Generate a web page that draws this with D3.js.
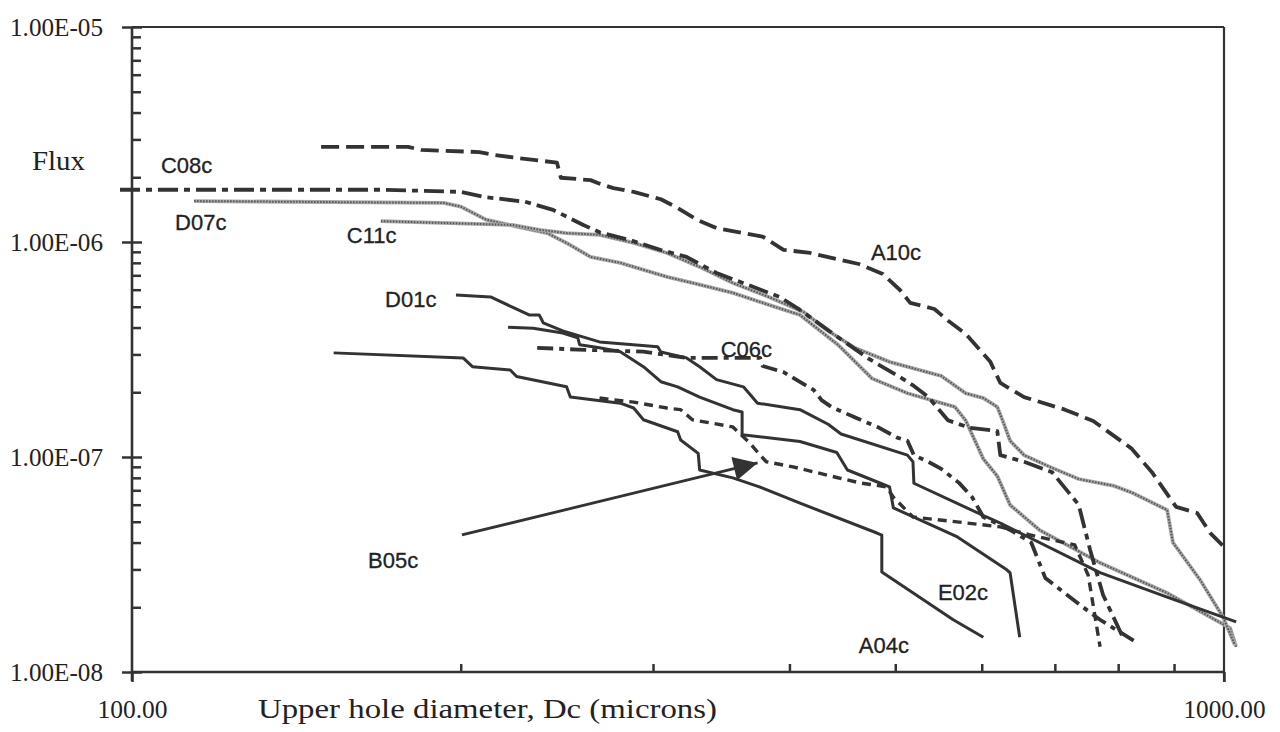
<!DOCTYPE html>
<html>
<head>
<meta charset="utf-8">
<script src="https://cdn.jsdelivr.net/npm/d3@7"></script>
<style>
html, body { margin: 0; padding: 0; background: #fff; }
svg { display: block; }
</style>
</head>
<body>
<svg id="chart" width="1280" height="732"></svg>
<script>
// 坐标刻度
var xMajor = [100, 1000];
var xMinor = [200, 300, 400, 500, 600, 700, 800, 900];
var yMajor = [1e-8, 1e-7, 1e-6, 1e-5];
var yMult = [2, 3, 4, 5, 6, 7, 8, 9];

// 各条曲线 [直径 Dc, Flux]
var a10c = [[149,2.77e-6],[179,2.77e-6],[184,2.68e-6],[208,2.62e-6],[215,2.54e-6],[225,2.46e-6],[245,2.34e-6],[247,1.99e-6],[263,1.94e-6],[267,1.88e-6],[276,1.78e-6],[288,1.71e-6],[305,1.58e-6],[316,1.44e-6],[329,1.27e-6],[343,1.16e-6],[378,1.06e-6],[395,9.2e-7],[418,8.89e-7],[463,7.9e-7],[487,7.1e-7],[505,5.98e-7],[516,5.21e-7],[543,4.88e-7],[559,4.3e-7],[580,3.74e-7],[611,2.77e-7],[624,2.21e-7],[656,1.9e-7],[715,1.66e-7],[759,1.47e-7],[822,1.1e-7],[859,8.5e-8],[904,5.86e-8],[945,5.49e-8],[971,4.44e-8],[1000,3.82e-8]];
var c08c = [[97.5,1.75e-6],[170,1.75e-6],[200,1.71e-6],[210,1.62e-6],[229,1.54e-6],[243,1.41e-6],[259,1.2e-6],[268,1.11e-6],[286,1.02e-6],[305,9.18e-7],[322,8.52e-7],[343,7.18e-7],[392,5.55e-7],[409,4.83e-7],[440,3.7e-7],[473,2.86e-7],[508,2.31e-7],[520,2.14e-7],[536,1.9e-7],[559,1.48e-7],[584,1.37e-7],[620,1.32e-7],[624,1.02e-7],[656,9.5e-8],[696,8.5e-8],[736,6e-8],[754,3.7e-8],[775,2.28e-8],[807,1.47e-8]];
var d07c = [[114,1.55e-6],[193,1.52e-6],[200,1.46e-6],[211,1.27e-6],[225,1.18e-6],[240,1.1e-6],[250,9.9e-7],[263,8.52e-7],[280,8e-7],[309,6.88e-7],[326,6.45e-7],[355,5.8e-7],[383,5.1e-7],[409,4.58e-7],[443,3.33e-7],[476,2.32e-7],[513,1.98e-7],[567,1.71e-7],[580,1.48e-7],[602,9.8e-8],[620,8.15e-8],[637,5.98e-8],[678,4.57e-8],[770,3.22e-8],[887,2.33e-8],[1013,1.6e-8],[1026,1.31e-8]];
var c11c = [[169,1.25e-6],[223,1.2e-6],[236,1.14e-6],[250,1.1e-6],[268,1.08e-6],[288,9.9e-7],[309,8.89e-7],[331,7.66e-7],[355,6.45e-7],[383,5.55e-7],[412,4.73e-7],[434,3.86e-7],[459,3.22e-7],[494,2.77e-7],[551,2.38e-7],[580,1.98e-7],[602,1.88e-7],[620,1.71e-7],[627,1.48e-7],[637,1.19e-7],[656,1.02e-7],[696,8.9e-8],[736,7.9e-8],[793,7.34e-8],[825,6.8e-8],[887,5.67e-8],[898,4e-8],[951,2.68e-8],[998,1.8e-8],[1023,1.34e-8]];
var d01c = [[198,5.67e-7],[213,5.55e-7],[223,4.98e-7],[231,4.58e-7],[236,4.58e-7],[238,4.21e-7],[248,3.86e-7],[268,3.43e-7],[303,3.26e-7],[305,3.08e-7],[322,2.89e-7],[331,2.63e-7],[343,2.29e-7],[363,2.12e-7],[374,1.78e-7],[409,1.66e-7],[434,1.42e-7],[446,1.28e-7],[513,1.02e-7],[519,9.5e-8],[520,7.55e-8],[606,5.26e-8],[624,4.93e-8],[770,2.9e-8],[887,2.23e-8],[1026,1.71e-8]];
var e02c = [[221,4.01e-7],[233,3.97e-7],[248,3.77e-7],[256,3.58e-7],[257,3.33e-7],[268,3.22e-7],[280,3.09e-7],[294,2.63e-7],[305,2.24e-7],[316,2.12e-7],[331,1.9e-7],[355,1.66e-7],[362,1.62e-7],[362,1.27e-7],[409,1.18e-7],[442,1.05e-7],[452,8.7e-8],[484,7.57e-8],[494,7.26e-8],[498,5.8e-8],[570,4.25e-8],[633,2.98e-8],[637,2.89e-8],[650,1.45e-8]];
var a04c = [[153,3.05e-7],[201,2.89e-7],[205,2.63e-7],[222,2.54e-7],[225,2.37e-7],[250,2.12e-7],[252,1.9e-7],[280,1.78e-7],[288,1.69e-7],[294,1.49e-7],[316,1.31e-7],[318,1.2e-7],[330,1.04e-7],[331,8.7e-8],[355,8e-8],[376,7.24e-8],[409,6.1e-8],[481,4.43e-8],[486,4.33e-8],[486,2.92e-8],[565,1.75e-8],[602,1.45e-8]];
var c06c = [[235,3.22e-7],[256,3.16e-7],[294,3.09e-7],[322,2.89e-7],[346,2.89e-7],[376,2.89e-7],[378,2.65e-7],[395,2.48e-7],[421,2.05e-7],[428,1.84e-7],[437,1.71e-7],[459,1.53e-7],[483,1.37e-7],[502,1.23e-7],[513,1.19e-7],[520,1.02e-7],[536,9.5e-8],[551,8.8e-8],[572,7.58e-8],[588,6.5e-8],[602,5.26e-8],[637,4.58e-8],[666,4e-8],[686,2.74e-8],[743,2e-8],[770,1.75e-8],[832,1.37e-8]];
var b05c = [[268,1.88e-7],[288,1.8e-7],[309,1.69e-7],[318,1.66e-7],[326,1.49e-7],[355,1.38e-7],[360,1.29e-7],[368,1.16e-7],[376,1.02e-7],[381,9.5e-8],[403,9e-8],[442,8.03e-8],[464,7.58e-8],[491,7.26e-8],[498,6.5e-8],[519,5.26e-8],[582,4.93e-8],[624,4.73e-8],[663,4.35e-8],[730,3.9e-8],[751,2.82e-8],[770,1.31e-8]];

// 标注文字 [名称, Dc, Flux]
var labels = [['C08c',106.3,2.09e-6],['D07c',109.5,1.14e-6],['C11c',157.3,9.89e-7],['D01c',170.5,4.99e-7],['C06c',346,2.92e-7],['A10c',475,8.25e-7],['B05c',164.5,3.05e-8],['E02c',547,2.16e-8],['A04c',463,1.23e-8]];
// 箭头 起点 / 终点
var arrow = [[200.5,4.34e-8],[374,9.38e-8]];

var svg = d3.select('#chart');
var ink = '#333';
var serif = '"Liberation Serif", "Times New Roman", serif';
var x = d3.scaleLog().domain([100, 1000]).range([132, 1224]);
var y = d3.scaleLog().domain([1e-8, 1e-5]).range([672, 27]);

var yMinor = [];
[1e-8, 1e-7, 1e-6].forEach(function (p) {
    yMult.forEach(function (m) { yMinor.push(m * p); });
});

function fmtE(d) {
    var e = Math.round(Math.log10(d));
    var m = (d / Math.pow(10, e)).toFixed(2);
    var a = Math.abs(e);
    return m + 'E' + (e < 0 ? '-' : '+') + (a < 10 ? '0' + a : a);
}

function styleAxis(g) {
    g.select('.domain').remove();
    g.selectAll('line').attr('stroke', ink).attr('stroke-width', 2.5);
    g.selectAll('text')
        .attr('fill', '#222')
        .attr('font-family', serif)
        .attr('font-size', 25);
}

// 边框
var frame = svg.append('g').attr('stroke', ink).attr('stroke-width', 2.6).attr('fill', 'none');
frame.append('line').attr('x1', 132).attr('y1', 27).attr('x2', 132).attr('y2', 681);
frame.append('line').attr('x1', 132).attr('y1', 672).attr('x2', 1224).attr('y2', 672);
frame.append('line').attr('x1', 132).attr('y1', 27).attr('x2', 1224).attr('y2', 27)
    .attr('stroke-width', 2.2);
frame.append('line').attr('x1', 1224).attr('y1', 27).attr('x2', 1224).attr('y2', 682)
    .attr('stroke-width', 2.2);

// 纵轴刻度
svg.append('g').attr('transform', 'translate(132,0)')
    .call(d3.axisLeft(y).tickValues(yMinor).tickSize(-9).tickFormat(''))
    .call(styleAxis);
svg.append('g').attr('transform', 'translate(132,0)')
    .call(d3.axisLeft(y).tickValues(yMajor).tickSize(10).tickPadding(19).tickFormat(fmtE))
    .call(styleAxis)
    .call(function (g) {
        g.selectAll('text').attr('textLength', 93).attr('lengthAdjust', 'spacingAndGlyphs');
    });
svg.append('g').attr('transform', 'translate(132,0)')
    .call(d3.axisLeft(y).tickValues(yMajor).tickSize(-10).tickFormat(''))
    .call(styleAxis);

// 横轴刻度
svg.append('g').attr('transform', 'translate(0,672)')
    .call(d3.axisBottom(x).tickValues(xMinor).tickSize(-8).tickFormat(''))
    .call(styleAxis);
svg.append('g').attr('transform', 'translate(0,672)')
    .call(d3.axisBottom(x).tickValues(xMajor).tickSize(10).tickPadding(18)
        .tickFormat(function (d) { return d.toFixed(2); }))
    .call(styleAxis)
    .call(function (g) {
        g.selectAll('text')
            .attr('textLength', function (d) { return d < 500 ? 70 : 82; })
            .attr('lengthAdjust', 'spacingAndGlyphs');
    });

// 轴标题
svg.append('text')
    .attr('x', 258).attr('y', 718)
    .attr('font-family', serif)
    .attr('font-size', 27).attr('fill', '#222')
    .attr('textLength', 459).attr('lengthAdjust', 'spacingAndGlyphs')
    .text('Upper hole diameter, Dc (microns)');
svg.append('text')
    .attr('x', 32).attr('y', 170)
    .attr('font-family', serif)
    .attr('font-size', 27).attr('fill', '#222')
    .attr('textLength', 53).attr('lengthAdjust', 'spacingAndGlyphs')
    .text('Flux');

var line = d3.line()
    .x(function (d) { return x(d[0]); })
    .y(function (d) { return y(d[1]); });

// 灰色点状线
[d07c, c11c].forEach(function (d) {
    svg.append('path').datum(d).attr('d', line)
        .attr('fill', 'none').attr('stroke', '#a8a8a8').attr('stroke-width', 3.8);
    svg.append('path').datum(d).attr('d', line)
        .attr('fill', 'none').attr('stroke', '#555').attr('stroke-width', 2)
        .attr('stroke-dasharray', '1.5,1.5');
});

var series = [
    { data: a10c, width: 3.8, dash: '18,7' },
    { data: c08c, width: 3.8, dash: '20,6,6,6' },
    { data: c06c, width: 3.8, dash: '16,6,5,6' },
    { data: b05c, width: 3.4, dash: '9,6' },
    { data: d01c, width: 3, dash: null },
    { data: e02c, width: 3, dash: null },
    { data: a04c, width: 3, dash: null }
];

series.forEach(function (s) {
    var p = svg.append('path').datum(s.data).attr('d', line)
        .attr('fill', 'none')
        .attr('stroke', ink)
        .attr('stroke-width', s.width)
        .attr('stroke-linejoin', 'round');
    if (s.dash) {
        p.attr('stroke-dasharray', s.dash);
    }
});

// 箭头
svg.append('defs').append('marker')
    .attr('id', 'head')
    .attr('markerUnits', 'userSpaceOnUse')
    .attr('markerWidth', 30).attr('markerHeight', 30)
    .attr('viewBox', '-2 -14 30 28')
    .attr('refX', 24).attr('refY', 0)
    .attr('orient', 'auto')
    .append('path')
    .attr('d', 'M0,-12L24,0L0,12Z')
    .attr('fill', ink);
svg.append('path').datum(arrow).attr('d', line)
    .attr('fill', 'none').attr('stroke', ink).attr('stroke-width', 2.8)
    .attr('marker-end', 'url(#head)');

// 曲线名称
svg.append('g').selectAll('text')
    .data(labels)
    .enter()
    .append('text')
    .attr('x', function (d) { return x(d[1]); })
    .attr('y', function (d) { return y(d[2]); })
    .attr('font-family', '"Liberation Sans", Arial, sans-serif')
    .attr('font-size', 22)
    .attr('fill', '#222')
    .attr('stroke', '#222').attr('stroke-width', 0.3)
    .text(function (d) { return d[0]; });
</script>
</body>
</html>
